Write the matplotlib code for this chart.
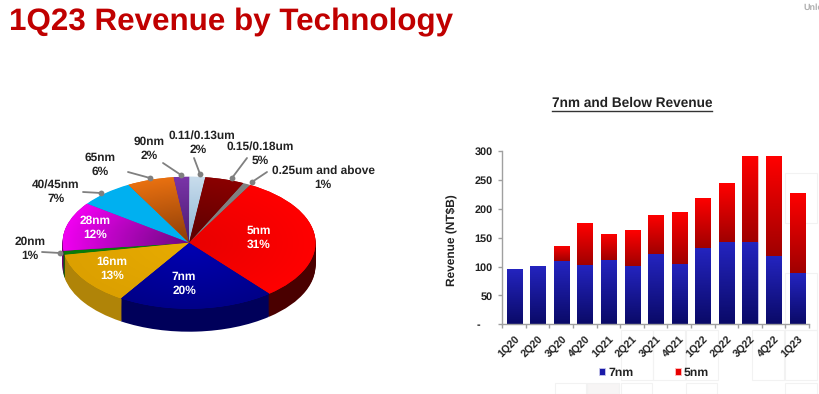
import numpy as np
import matplotlib
matplotlib.use("Agg")
import matplotlib.pyplot as plt
from matplotlib.colors import to_rgb
from matplotlib.patches import Rectangle

plt.rcParams["font.family"] = ["Liberation Sans", "DejaVu Sans"]
plt.rcParams["text.hinting"] = "none"

W, H = 819, 394

# pie data
pie_labels = ["5nm", "7nm", "16nm", "20nm", "28nm", "40/45nm", "65nm", "90nm",
              "0.11/0.13um", "0.15/0.18um", "0.25um and above"]
pie_values = [31, 20, 13, 1, 12, 7, 6, 2, 2, 5, 1]

# bar data
quarters = ["1Q20", "2Q20", "3Q20", "4Q20", "1Q21", "2Q21", "3Q21", "4Q21",
            "1Q22", "2Q22", "3Q22", "4Q22", "1Q23"]
rev_7nm = [96, 101, 109, 103, 111, 101, 122, 105, 132, 143, 142, 118, 88]
rev_5nm = [0, 0, 26, 72, 46, 62, 68, 90, 87, 101, 149, 173, 140]

top_colors = ["#f00000", "#0000a8", "#e8ac00", "#0a7a0a", "#b000b0", "#00b0f0",
              "#e06c10", "#6a2a9a", "#a8c8e0", "#7a0000", "#808080"]
side_colors = ["#4a0000", "#00005a", "#b08408", "#0a5a0a", "#700070", "#0080b0",
               "#904008", "#401860", "#7090a8", "#4a0000", "#505050"]

# (inner, outer) radial shading per slice, None = flat colour
radial = {0: ("#e80000", "#ff0000"), 1: ("#0000b4", "#000088"),
          2: ("#e8ac00", "#dca000"), 4: ("#6a0a80", "#f000f0"),
          6: ("#8a3c08", "#e87010"), 7: ("#4a1c70", "#7a34a8"),
          8: ("#8cb4d4", "#c8dcec"), 9: ("#5a0000", "#8a0000")}


def ax_px(left, top, right, bottom):
    return fig.add_axes([left / W, 1 - bottom / H, (right - left) / W, (bottom - top) / H])


def hexgrad(c1, c2, n=64):
    a, b = np.array(to_rgb(c1)), np.array(to_rgb(c2))
    t = np.linspace(0, 1, n)[:, None]
    return (a + (b - a) * t)[:, None, :]


fig = plt.figure(figsize=(W / 100, H / 100), dpi=100)

# faint boxes behind the bar chart
bg = ax_px(0, 0, W, H)
bg.set_xlim(0, W)
bg.set_ylim(H, 0)
bg.axis("off")
boxes = [(621, 330, 32, 50), (653, 330, 32, 50), (686, 330, 32, 50), (752, 330, 32, 50),
         (785, 330, 32, 50), (785, 173, 32, 50), (785, 273, 32, 57), (555, 383, 31, 11),
         (587, 383, 32, 11), (621, 383, 31, 11), (686, 383, 31, 11), (785, 383, 32, 11)]
for x, y, w, h in boxes:
    bg.add_patch(Rectangle((x, y), w, h, fc="#f7f5f5" if x == 587 else "none", ec="#f2f2f2", lw=0.8))

# pie: stacked layers make the side wall, then the top face
depth = 23 / 66
pie_ax = ax_px(62.5, 176.7, 315.5, 331.7)
for d in np.linspace(depth, 0.01, 24):
    pie_ax.pie(pie_values, colors=side_colors, startangle=61, counterclock=False,
               center=(0, -d), radius=1)
wedges, _ = pie_ax.pie(pie_values, colors=top_colors, startangle=61, counterclock=False,
                       center=(0, 0), radius=1)
pie_ax.set_aspect("auto")
yy, xx = np.mgrid[1:-1:200j, -1:1:200j]
rr = np.clip(np.hypot(xx, yy), 0, 1)
for i, (c1, c2) in radial.items():
    a, b = np.array(to_rgb(c1)), np.array(to_rgb(c2))
    img = a + (b - a) * rr[..., None]
    im = pie_ax.imshow(img, extent=(-1, 1, -1, 1), aspect="auto", zorder=3)
    im.set_clip_path(wedges[i])
pie_ax.set_xlim(-1, 1)
pie_ax.set_ylim(-1 - depth, 1)
pie_ax.axis("off")

# pie labels
over = ax_px(0, 0, W, H)
over.set_xlim(0, W)
over.set_ylim(H, 0)
over.axis("off")
over.patch.set_alpha(0)

inside = {"5nm": (259, 238), "7nm": (184, 284), "16nm": (112, 269), "28nm": (95, 228)}
outside = {"20nm": (30, 248.5), "40/45nm": (56, 192), "65nm": (100, 165), "90nm": (149.5, 148.5),
           "0.15/0.18um": (260, 154), "0.25um and above": (323, 178)}
for name, val in zip(pie_labels, pie_values):
    if name in inside:
        x, y = inside[name]
        over.text(x, y, f"{name}\n{val}%", color="white", fontsize=8.6, fontweight="bold",
                  ha="center", va="center", linespacing=1.35)
    elif name in outside:
        x, y = outside[name]
        over.text(x, y, f"{name}\n{val}%", color="#222222", fontsize=8.6, fontweight="bold",
                  ha="center", va="center", linespacing=1.35)
over.text(201.5, 136, pie_labels[8], color="#222222", fontsize=8.6, fontweight="bold", ha="center", va="center")
over.text(198, 150, f"{pie_values[8]}%", color="#222222", fontsize=8.6, fontweight="bold", ha="center", va="center")

leaders = [((42, 252), (60, 253)), ((83, 192), (101, 193)), ((128, 172), (150, 178)),
           ((163, 163), (181, 175)), ((194, 158), (200, 174)), ((247, 158), (232, 178)),
           ((267, 172), (252, 182))]
for p0, p1 in leaders:
    over.plot([p0[0], p1[0]], [p0[1], p1[1]], color="#808080", lw=1.3, solid_capstyle="round")
    over.plot(*p1, "o", color="#808080", ms=4.2, mew=0)

# title and header
over.text(9, 30, "1Q23 Revenue by Technology", color="#c00000", fontsize=22.6, fontweight="bold",
          ha="left", va="baseline")
over.text(803, 8, "Unle", color="#b0b0b0", fontsize=6.5, fontweight="bold", ha="left", va="center", clip_on=True)
over.text(632, 103, "7nm and Below Revenue", color="#222222", fontsize=9.8, fontweight="bold",
          ha="center", va="center")
over.plot([552, 712], [111, 111], color="#333333", lw=1)
over.text(452, 240, "Revenue (NT$B)", color="#222222", fontsize=8.6, fontweight="bold",
          rotation=90, ha="center", va="center")

# stacked bars
ax = ax_px(502.3, 151, 809, 324.3)
ax.patch.set_alpha(0)
x = np.arange(len(quarters))
b7 = ax.bar(x, rev_7nm, width=0.64, color="#1a1aa8", edgecolor="#c8c8ec", linewidth=0.6, label="7nm")
b5 = ax.bar(x, rev_5nm, width=0.64, bottom=rev_7nm, color="#e80000", edgecolor="#ffc0c0", linewidth=0.6, label="5nm")
grad7 = hexgrad("#2424c0", "#0a0a68")
grad5 = hexgrad("#ff0000", "#a00000")
for bars, grad in ((b7, grad7), (b5, grad5)):
    for r in bars:
        if r.get_height() == 0:
            continue
        im = ax.imshow(grad, extent=(r.get_x(), r.get_x() + r.get_width(), r.get_y(), r.get_y() + r.get_height()),
                       aspect="auto", zorder=r.get_zorder() + 0.1)
        im.set_clip_path(r)
ax.set_xlim(-0.5, len(quarters) - 0.5)
ax.set_ylim(0, 300)
ax.set_aspect("auto")
ax.set_yticks(range(0, 301, 50))
ax.set_yticklabels(["-    ", "50", "100", "150", "200", "250", "300"], fontsize=7.8, fontweight="bold", color="#222222")
ax.set_xticks(np.arange(-0.5, len(quarters), 1))
ax.set_xticklabels([])
ax.set_xticks(x, minor=True)
ax.set_xticklabels(quarters, minor=True, rotation=45, ha="right", rotation_mode="anchor",
                   fontsize=7.6, fontweight="bold", color="#222222")
ax.tick_params(axis="x", which="minor", length=0, pad=7)
ax.tick_params(axis="both", which="major", length=3, color="#a0a0a0", width=1)
ax.tick_params(axis="y", pad=4)
for s in ("top", "right"):
    ax.spines[s].set_visible(False)
for s in ("left", "bottom"):
    ax.spines[s].set_color("#a0a0a0")
    ax.spines[s].set_linewidth(1)
ax.legend(loc="center", bbox_to_anchor=(0.495, -0.28), ncol=2, frameon=False,
          prop={"weight": "bold", "size": 8.8}, handlelength=0.5, handleheight=0.5, handletextpad=0.25,
          columnspacing=3.4, labelcolor="#222222")

fig.savefig("out.png", dpi=100)
